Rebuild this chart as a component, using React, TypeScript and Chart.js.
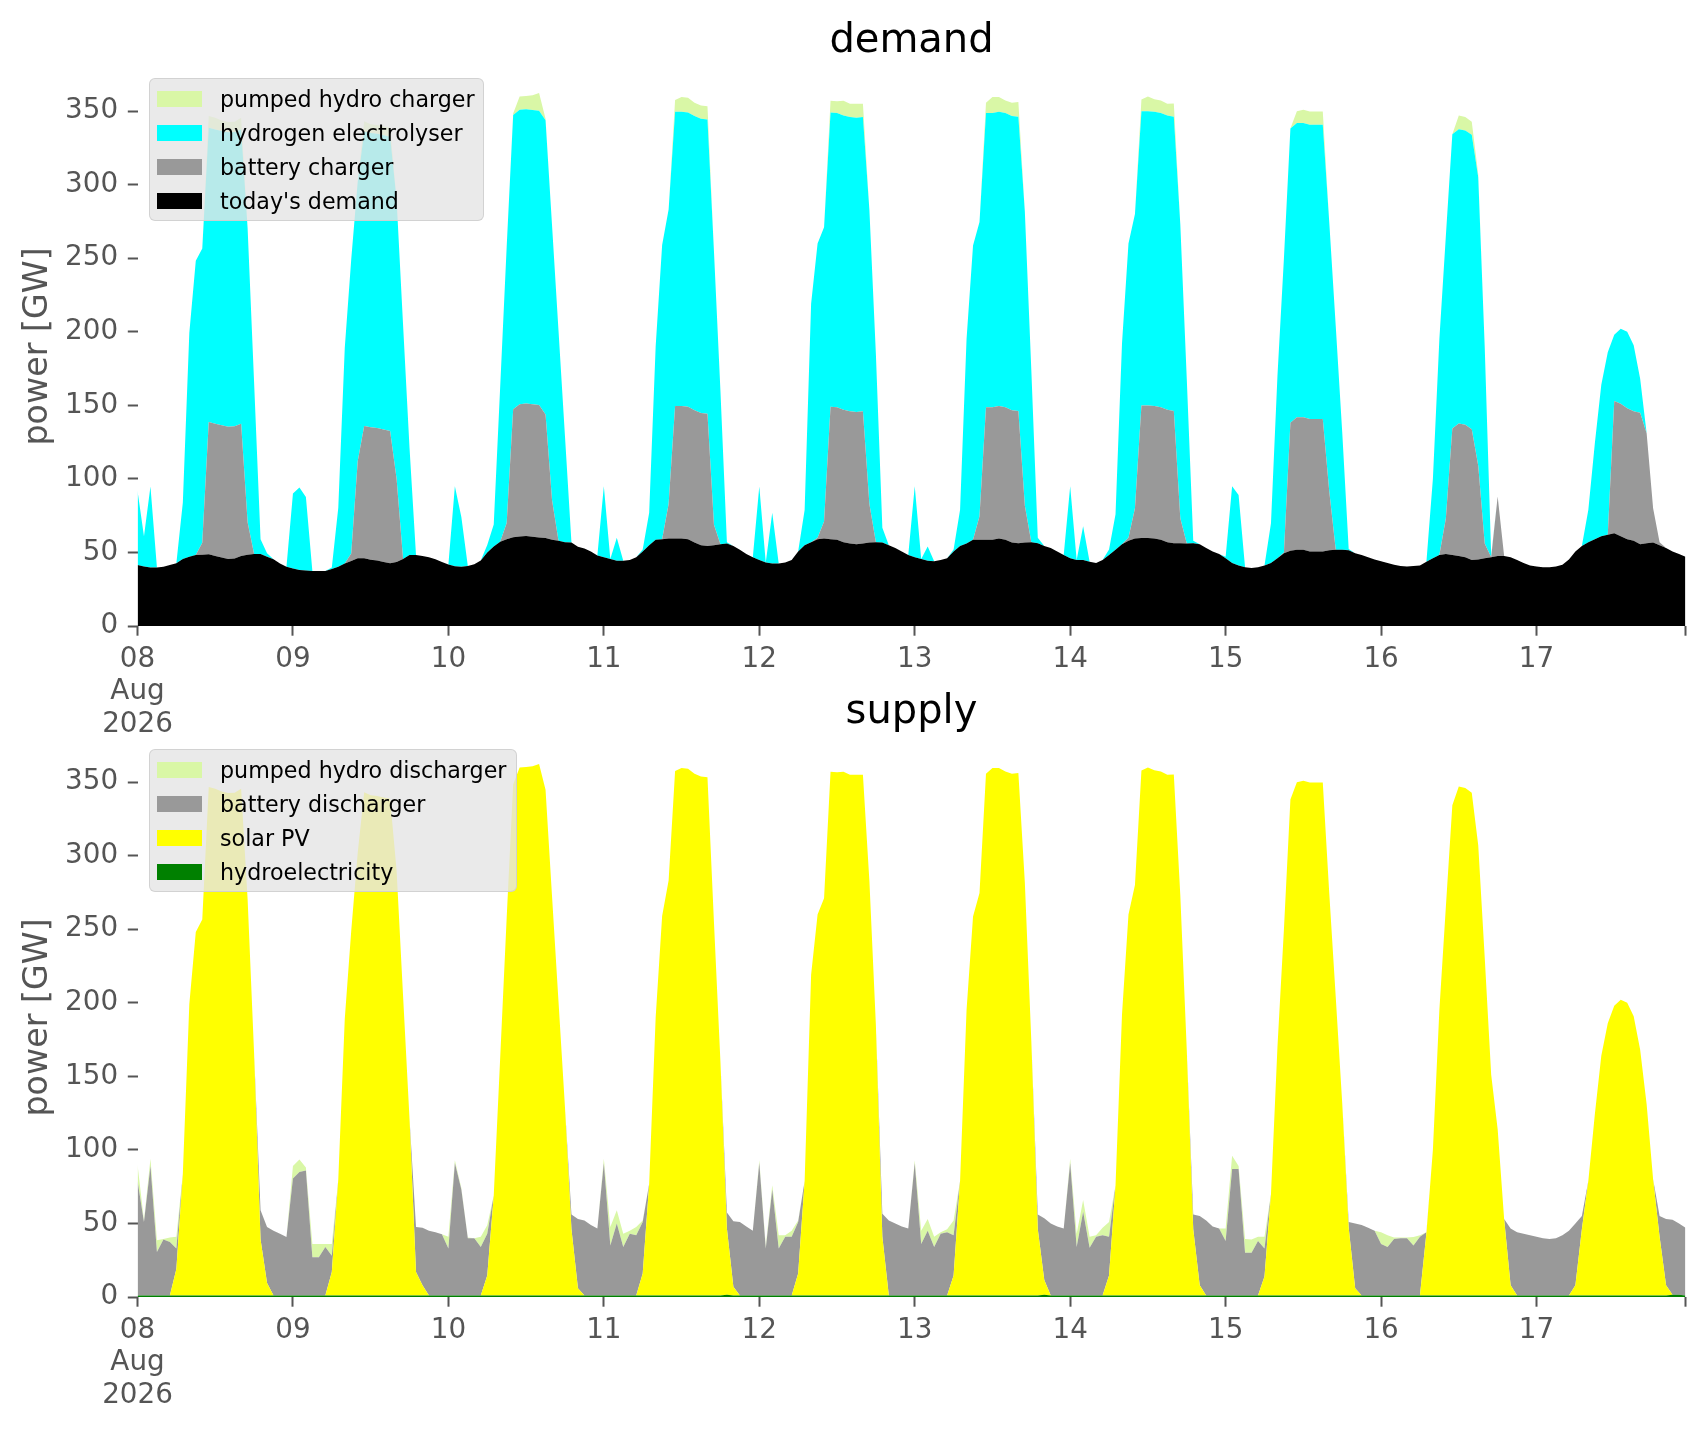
import { useEffect, useRef } from 'react'
import Chart from 'chart.js/auto'

// hourly power in GW, 08 Aug 2026 00:00 .. 17 Aug 2026 23:00 (one row per day)

const todaysDemand = [
  41.5, 40.5, 39.8, 39.8, 40.3, 41.5, 42.6, 45.5, 47.1, 48.3, 48.5, 48.7, 47.5, 46.5, 45.5, 45.8, 47.5, 48.5, 48.9, 48.9, 47, 45.3, 42.5, 40.3,
  39, 38.1, 37.7, 37.4, 37.4, 37.4, 38.7, 40.3, 42.5, 44.2, 46, 46, 45, 44.5, 43.5, 42.6, 43.5, 45.5, 48.3, 48.3, 47.6, 46.8, 45.3, 43.5,
  41.8, 40.6, 40.3, 40.8, 42, 44.5, 50, 54, 57.3, 59, 60.3, 60.8, 61.2, 60.7, 60.2, 59.8, 58.6, 57.9, 57, 56.7, 53.8, 52.6, 50.7, 47.9,
  46.7, 45.5, 44.3, 44.3, 44.8, 46.7, 50.7, 54.8, 58.6, 59, 59.5, 59.5, 59.5, 59, 56.7, 54.8, 54.3, 54.8, 55.5, 56, 54.3, 51.9, 49, 46.7,
  44.8, 43.1, 42.4, 42.4, 43.1, 44.8, 50.7, 54.8, 57, 59, 59.5, 59, 58.6, 57, 56, 55.5, 56, 56.7, 57, 56.7, 54.8, 53, 50.7, 48.3,
  46.7, 45.5, 44.3, 44, 44.8, 46, 50.7, 54.3, 56, 58.6, 58.6, 58.6, 58.6, 59.5, 58.6, 56.7, 56.2, 56.7, 57, 56.2, 54.3, 53, 50.7, 48.3,
  46, 44.8, 44.8, 43.6, 42.9, 44.8, 48.3, 51.9, 55.5, 57.9, 59.5, 59.8, 59.8, 59.5, 58.6, 57, 56.2, 56.2, 56, 56.2, 55.5, 53, 50.7, 49,
  46, 42.9, 41.2, 40, 39.5, 40, 41.2, 42.9, 46, 49.5, 51.2, 51.9, 51.9, 50.7, 50.7, 50.7, 51.4, 51.9, 51.9, 51.4, 49.5, 48.3, 46.7, 45.2,
  44, 42.9, 41.7, 40.7, 40.5, 40.7, 41.2, 43.6, 46, 48.3, 49, 48.3, 47.6, 46.7, 44.8, 45.2, 46, 46.7, 47.6, 47.6, 46.7, 44.8, 42.9, 41.2,
  40.5, 40, 40, 40.5, 41.7, 45.2, 50.7, 54.3, 57, 59, 61, 62, 63, 61, 59, 57.9, 55.5, 56.2, 56.7, 54.8, 53, 50.7, 49, 47,
]

const batteryCharger = [
  0, 0, 0, 0, 0, 0, 0, 0, 0, 0, 8, 90, 90, 90, 90, 90, 90, 22, 0, 0, 0, 0, 0, 0,
  0, 0, 0, 0, 0, 0, 0, 0, 0, 5, 66, 90, 90, 90, 90, 90, 56.5, 0, 0, 0, 0, 0, 0, 0,
  0, 0, 0, 0, 0, 0, 0, 0, 0, 11, 87, 90, 90, 90, 90, 84, 27, 0, 0, 0, 0, 0, 0, 0,
  0, 0, 0, 0, 0, 0, 0, 0, 0, 0, 23.5, 90, 90, 90, 90, 90, 90, 14, 0, 0, 0, 0, 0, 0,
  0, 0, 0, 0, 0, 0, 0, 0, 0, 1, 11.5, 90, 90, 90, 90, 90, 90, 26, 0, 0, 0, 0, 0, 0,
  0, 0, 0, 0, 0, 0, 0, 0, 0, 0, 16, 90, 90, 90, 90, 90, 90, 25, 0, 0, 0, 0, 0, 0,
  0, 0, 0, 0, 0, 0, 0, 0, 0, 2, 20.5, 90, 90, 90, 90, 90, 90, 17, 0, 0, 0, 0, 0, 0,
  0, 0, 0, 0, 0, 0, 0, 0, 0, 0.5, 87, 90, 90, 90, 90, 90, 40, 0, 0, 0, 0, 0, 0, 0,
  0, 0, 0, 0, 0, 0, 0, 0, 0, 0, 24, 86, 90, 90, 89, 63.8, 10, 0, 40.4, 0, 0, 0, 0, 0,
  0, 0, 0, 0, 0, 0, 0, 0, 0, 0, 0, 0, 90, 90, 89, 88, 89.5, 74.8, 23.3, 2.2, 0, 0, 0, 0,
]

const hydrogenElectrolyser = [
  50.5, 20.5, 55, 0, 0, 0, 0, 38.5, 152, 200, 200, 200, 200, 200, 200, 200, 200, 200, 117, 10, 2.5, 0, 0, 0,
  51, 56, 50, 0, 0, 0, 1, 40, 146.5, 200, 190, 200, 200, 200, 200, 200, 190, 159.5, 72.7, 0, 0, 0, 0, 0,
  0, 54.4, 33.7, 0, 0, 0, 5, 15, 105.7, 188, 200, 200, 200, 200, 200, 200, 187, 143, 72, 0, 0, 0, 0, 0,
  48.3, 0, 15.7, 0, 0, 0, 1.3, 22.2, 131.4, 200, 200, 200, 200, 200, 200, 200, 200, 186, 104.5, 1, 0, 0, 0, 0,
  50, 0, 34.6, 0, 0, 0, 0, 24, 162, 200, 200, 200, 200, 200, 200, 200, 200, 200, 128, 10, 0, 0, 0, 0,
  48.3, 0, 9.7, 0, 0, 0, 1.3, 24.7, 139, 200, 200, 200, 200, 200, 200, 200, 200, 200, 117, 3.8, 0, 0, 0, 0,
  49, 0, 23, 0, 0, 0, 3.7, 24, 136.5, 200, 200, 200, 200, 200, 200, 200, 200, 200, 112, 1.8, 0, 0, 0, 0,
  1, 52, 47.8, 0, 0, 0, 0, 27, 124, 200, 200, 200, 200, 200, 200, 200, 183, 152, 80, 1, 0, 0, 0, 0,
  0, 0, 0, 0, 0, 0, 0, 0, 54, 146.7, 192, 200, 200, 200, 200, 196, 134, 1.3, 0, 0, 0, 0, 0, 0,
  0, 0, 0, 0, 0, 0, 0, 0, 22, 65, 103, 124, 45, 51, 52, 45, 23, 0, 0, 0, 0, 0, 0, 0,
]

const pumpedHydroCharger = [
  0, 0, 0, 0, 0, 0, 0, 0, 0, 0, 0, 8, 8, 7, 7, 7, 8, 0, 0, 0, 0, 0, 0, 0,
  0, 0, 0, 0, 0, 0, 0, 0, 0, 0, 0, 7, 6, 6, 6, 6, 0, 0, 0, 0, 0, 0, 0, 0,
  0, 0, 0, 0, 0, 0, 0, 0, 0, 0, 1, 9, 9, 10, 12, 1, 0, 0, 0, 0, 0, 0, 0, 0,
  0, 0, 0, 0, 0, 0, 0, 0, 0, 0, 0, 8, 10, 10, 9, 9, 9, 0, 0, 0, 0, 0, 0, 0,
  0, 0, 0, 0, 0, 0, 0, 0, 0, 0, 0, 8, 8, 10, 9, 9.5, 9, 0, 0, 0, 0, 0, 0, 0,
  0, 0, 0, 0, 0, 0, 0, 0, 0, 0, 0, 7, 11, 10, 8.5, 9, 10, 0, 0, 0, 0, 0, 0, 0,
  0, 0, 0, 0, 0, 0, 0, 0, 0, 0, 0, 8, 10, 8.5, 8.5, 8, 9, 0, 0, 0, 0, 0, 0, 0,
  0, 0, 0, 0, 0, 0, 0, 0, 0, 0, 0, 8, 9, 9, 9, 9, 0, 0, 0, 0, 0, 0, 0, 0,
  0, 0, 0, 0, 0, 0, 0, 0, 0, 0, 0, 0, 9.4, 9.3, 9, 2, 0, 0, 0, 0, 0, 0, 0, 0,
  0, 0, 0, 0, 0, 0, 0, 0, 0, 0, 0, 0, 0, 0, 0, 0, 0, 0, 0, 0, 0, 0, 0, 0,
]

const hydroelectricity = [
  1, 1, 1, 1, 1, 1, 1, 1, 1, 1, 1, 1, 1, 1, 1, 1, 1, 1, 1, 1, 1, 1, 1, 1,
  1, 1, 1, 1, 1, 1, 1, 1, 1, 1, 1, 1, 1, 1, 1, 1, 1, 1, 1, 1, 1, 1, 1, 1,
  1, 1, 1, 1, 1, 1, 1, 1, 1, 1, 1, 1, 1, 1, 1, 1, 1, 1, 1, 1, 1, 1, 1, 1,
  1, 1, 1, 1, 1, 1, 1, 1, 1, 1, 1, 1, 1, 1, 1, 1, 1, 1, 1, 1.5, 1, 1, 1, 1,
  1, 1, 1, 1, 1, 1, 1, 1, 1, 1, 1, 1, 1, 1, 1, 1, 1, 1, 1, 1, 1, 1, 1, 1,
  1, 1, 1, 1, 1, 1, 1, 1, 1, 1, 1, 1, 1, 1, 1, 1, 1, 1, 1, 1, 1.5, 1, 1, 1,
  1, 1, 1, 1, 1, 1, 1, 1, 1, 1, 1, 1, 1, 1, 1, 1, 1, 1, 1, 1, 1, 1, 1, 1,
  1, 1, 1, 1, 1, 1, 1, 1, 1, 1, 1, 1, 1, 1, 1, 1, 1, 1, 1, 1, 1, 1, 1, 1,
  1, 1, 1, 1, 1, 1, 1, 1, 1, 1, 1, 1, 1, 1, 1, 1, 1, 1, 1, 1, 1, 1, 1, 1,
  1, 1, 1, 1, 1, 1, 1, 1, 1, 1, 1, 1, 1, 1, 1, 1, 1, 1, 1, 1, 1, 1.5, 1.5, 1,
]

const solarPV = [
  0, 0, 0, 0, 0, 0, 18, 83, 198, 247, 255.5, 345.7, 344.5, 342.5, 341.5, 341.8, 344.5, 269.5, 164.9, 38, 8.6, 0, 0, 0,
  0, 0, 0, 0, 0, 0, 16, 79, 188, 248, 301, 342, 340, 339.5, 338.5, 337.6, 289, 204, 120, 16, 7, 0, 0, 0,
  0, 0, 0, 0, 0, 0, 13.6, 68, 162, 257, 347.3, 358.8, 359.2, 359.7, 361.2, 343.8, 271.6, 199.9, 128, 45, 5, 0, 0, 0,
  0, 0, 0, 0, 0, 0, 15, 76, 189, 258, 282, 356.5, 358.5, 358, 354.7, 352.8, 352.3, 253.8, 159, 45, 6, 0, 0, 0,
  0, 0, 0, 0, 0, 0, 15, 77.8, 218, 259, 270, 356, 355.6, 356, 354, 354, 354, 281.7, 184, 40, 0, 0, 0, 0,
  0, 0, 0, 0, 0, 0, 13.6, 78, 194, 257.6, 273.6, 354.6, 358.6, 358.5, 356.1, 354.7, 355.2, 280.7, 173, 45, 10, 0, 0, 0,
  0, 0, 0, 0, 0, 0, 13.6, 75, 191, 259, 279, 356.8, 358.8, 357, 356.1, 354, 354.2, 272.2, 167, 45, 7, 0, 0, 0,
  0, 0, 0, 0, 0, 0, 13, 69, 169, 249, 337.2, 348.9, 349.9, 348.7, 348.7, 348.7, 273.4, 202.9, 130.9, 46, 5, 0, 0, 0,
  0, 0, 0, 0, 0, 0, 0, 42.5, 99, 194, 264, 333.3, 346, 345, 341.8, 306, 230, 150, 113, 52, 7, 0, 0, 0,
  0, 0, 0, 0, 0, 0, 7, 45, 78, 123, 163, 185, 197, 201, 199, 189.9, 167, 130, 79, 40, 7, 0, 0, 0,
]

const batteryDischarger = [
  78, 50, 88, 29.6, 38, 36.4, 14, 0, 0, 0, 0, 0, 0, 0, 0, 0, 0, 0, 0, 20, 38, 44, 42, 39.8,
  79.5, 84, 85, 26, 26, 33, 11, 0, 0, 0, 0, 0, 0, 0, 0, 0, 0, 0, 0, 30.6, 39, 44, 43, 41.6,
  32, 90, 72, 39, 39, 33, 28.4, 0, 0, 0, 0, 0, 0, 0, 0, 0, 0, 0, 0, 10, 47, 51, 48, 45.5,
  90, 34, 49, 33, 42, 41, 35, 0, 0, 0, 0, 0, 0, 0, 0, 0, 0, 0, 0, 11, 44.5, 50, 47, 44,
  90, 32, 72, 32, 40, 40, 35, 0, 0, 0, 0, 0, 0, 0, 0, 0, 0, 0, 0, 15.6, 51, 49, 47, 45.5,
  90, 35, 44, 33, 42, 43, 27.4, 0, 0, 0, 0, 0, 0, 0, 0, 0, 0, 0, 0, 10, 42, 49, 47, 45.5,
  90, 33, 57, 32.5, 40, 41, 26.4, 0, 0, 0, 0, 0, 0, 0, 0, 0, 0, 0, 0, 10, 47, 51, 47, 45.5,
  37, 86, 86, 29, 29, 37, 19, 0, 0, 0, 0, 0, 0, 0, 0, 0, 0, 0, 0, 4, 44, 48, 46, 44,
  35, 33, 38.5, 39, 39, 34, 40, 0.5, 0, 0, 0, 0, 0, 0, 0, 0, 0, 0, 0, 0, 38.5, 43, 42, 41,
  40, 39, 38.5, 39, 41, 44, 42, 9, 0, 0, 0, 0, 0, 0, 0, 0, 0, 0, 0, 14, 45, 51, 48.5, 46,
]

const pumpedHydroDischarger = [
  11, 1, 5, 8, 0.5, 3, 8, 0, 0, 0, 0, 0, 0, 0, 0, 0, 0, 0, 0, 0, 0, 0, 0, 0,
  8.5, 8.4, 2, 9, 9, 2, 8, 0, 0, 0, 0, 0, 0, 0, 0, 0, 0, 0, 0, 0, 0, 0, 0, 0,
  8, 2, 1, 0.5, 0, 7, 5.8, 0, 0, 0, 0, 0, 0, 0, 0, 0, 0, 0, 0, 0, 0, 0, 0, 0,
  3, 12.6, 9, 9, 2, 5.6, 1, 0, 0, 0, 0, 0, 0, 0, 0, 0, 0, 0, 0, 0, 0, 0, 0, 0,
  2, 2, 3, 9, 1, 4, 1, 0, 0, 0, 0, 0, 0, 0, 0, 0, 0, 0, 0, 0, 0, 0, 0, 0,
  2, 9, 8, 7, 1, 2, 10, 0, 0, 0, 0, 0, 0, 0, 0, 0, 0, 0, 0, 0, 0, 0, 0, 0,
  3, 9, 8, 7.5, 1, 5, 10, 0, 0, 0, 0, 0, 0, 0, 0, 0, 0, 0, 0, 0, 0, 0, 0, 0,
  8.5, 9, 2, 9.5, 9, 3, 8, 0, 0, 0, 0, 0, 0, 0, 0, 0, 0, 0, 0, 0, 0, 0, 0, 0,
  8, 8, 1, 0.5, 0.5, 5.7, 1, 0, 0, 0, 0, 0, 0, 0, 0, 0, 0, 0, 0, 0, 0, 0, 0, 0,
  0, 0, 0, 0, 0, 0, 0, 0, 0, 0, 0, 0, 0, 0, 0, 0, 0, 0, 0, 0, 0, 0, 0, 0,
]

const dayTicks = [0, 24, 48, 72, 96, 120, 144, 168, 192, 216, 239]
const dayTickLabels = [['08', 'Aug', '2026'], '09', '10', '11', '12', '13', '14', '15', '16', '17', '']
const powerTicks = [0, 50, 100, 150, 200, 250, 300, 350]

// x position of every sample = hour index since 08 Aug 00:00
const hours = todaysDemand.map((_, i) => i)

interface Series {
  label: string
  color: string
  data: number[]
}

// bottom of the stack first
const demandSeries: Series[] = [
  { label: "today's demand", color: '#000000', data: todaysDemand },
  { label: 'battery charger', color: '#999999', data: batteryCharger },
  { label: 'hydrogen electrolyser', color: '#00ffff', data: hydrogenElectrolyser },
  { label: 'pumped hydro charger', color: '#d9f7a6', data: pumpedHydroCharger },
]

const supplySeries: Series[] = [
  { label: 'hydroelectricity', color: '#008000', data: hydroelectricity },
  { label: 'solar PV', color: '#ffff00', data: solarPV },
  { label: 'battery discharger', color: '#999999', data: batteryDischarger },
  { label: 'pumped hydro discharger', color: '#d9f7a6', data: pumpedHydroDischarger },
]

const FONT = 'DejaVu Sans'
const TEXT_GREY = '#555555'
const PANEL_W = 1706
const PANEL_H = 760
const PLOT_LEFT = 137.5
const PLOT_RIGHT = 1685.5
const PLOT_TOP = 66.9
const PLOT_BOTTOM = 626
const Y_MAX = 380

const tickFont = { family: FONT, size: 27.8, lineHeight: 1.16 }

function StackPanel({ title, series, top, legendWidth }: { title: string; series: Series[]; top: number; legendWidth: number }) {
  const canvasRef = useRef<HTMLCanvasElement>(null)

  useEffect(() => {
    if (!canvasRef.current) return
    const chart = new Chart(canvasRef.current, {
      type: 'line',
      data: {
        labels: hours,
        datasets: series.map((s, i) => ({
          label: s.label,
          data: s.data,
          backgroundColor: s.color,
          borderColor: 'rgba(0,0,0,0)',
          borderWidth: 0,
          pointRadius: 0,
          tension: 0,
          fill: i === 0 ? 'origin' : '-1',
        })),
      },
      options: {
        animation: false,
        responsive: true,
        maintainAspectRatio: false,
        events: [],
        layout: { padding: { top: PLOT_TOP, right: PANEL_W - PLOT_RIGHT, bottom: 0, left: 0 } },
        plugins: { legend: { display: false }, tooltip: { enabled: false } },
        scales: {
          x: {
            type: 'linear',
            min: 0,
            max: 239,
            border: { display: false },
            grid: { drawOnChartArea: false, tickLength: 9.7, tickWidth: 2, tickColor: TEXT_GREY },
            ticks: {
              autoSkip: false,
              maxRotation: 0,
              minRotation: 0,
              padding: 8,
              color: TEXT_GREY,
              font: tickFont,
              callback: (_v, i) => dayTickLabels[i],
            },
            afterBuildTicks: (scale) => { scale.ticks = dayTicks.map((value) => ({ value })) },
            afterFit: (scale) => { scale.height = PANEL_H - PLOT_BOTTOM },
          },
          y: {
            stacked: true,
            min: 0,
            max: Y_MAX,
            border: { display: false },
            grid: { drawOnChartArea: false, tickLength: 9.7, tickWidth: 2, tickColor: TEXT_GREY },
            ticks: { padding: 9.7, color: TEXT_GREY, font: tickFont },
            title: {
              display: true,
              text: 'power [GW]',
              color: TEXT_GREY,
              font: { family: FONT, size: 33.3 },
              padding: { top: 18, bottom: 0 },
            },
            afterBuildTicks: (scale) => { scale.ticks = powerTicks.map((value) => ({ value })) },
            afterFit: (scale) => { scale.width = PLOT_LEFT },
          },
        },
      },
    })
    return () => { chart.destroy() }
  }, [series])

  return (
    <div style={{ position: 'absolute', left: 0, top, width: PANEL_W, height: PANEL_H }}>
      <canvas ref={canvasRef} />

      {/* title */}
      <div
        style={{
          position: 'absolute', left: PLOT_LEFT, width: PLOT_RIGHT - PLOT_LEFT, top: 18,
          textAlign: 'center', fontFamily: FONT, fontSize: 40, lineHeight: '40px', color: '#000',
        }}
      >
        {title}
      </div>

      {/* legend, top entry = top of the stack */}
      <div
        style={{
          position: 'absolute', left: 148.5, top: 78, width: legendWidth, height: 143, boxSizing: 'border-box',
          background: 'rgba(229,229,229,0.8)', border: '1.5px solid rgba(204,204,204,0.8)', borderRadius: 6,
          fontFamily: FONT, fontSize: 22.2, color: '#000',
        }}
      >
        {[...series].reverse().map((s, i) => (
          <div key={s.label} style={{ position: 'absolute', left: 0, top: 19.8 + i * 34 - 13, height: 26, display: 'flex', alignItems: 'center' }}>
            <span style={{ display: 'inline-block', marginLeft: 7.5, width: 45, height: 16, background: s.color }} />
            <span style={{ marginLeft: 18, whiteSpace: 'nowrap', lineHeight: '26px' }}>{s.label}</span>
          </div>
        ))}
      </div>
    </div>
  )
}

export default function App() {
  return (
    <div style={{ position: 'absolute', left: 0, top: 0, width: 1706, height: 1431, background: '#fff', overflow: 'hidden' }}>
      <StackPanel title="demand" series={demandSeries} top={0} legendWidth={335} />
      <StackPanel title="supply" series={supplySeries} top={671} legendWidth={368} />
    </div>
  )
}
